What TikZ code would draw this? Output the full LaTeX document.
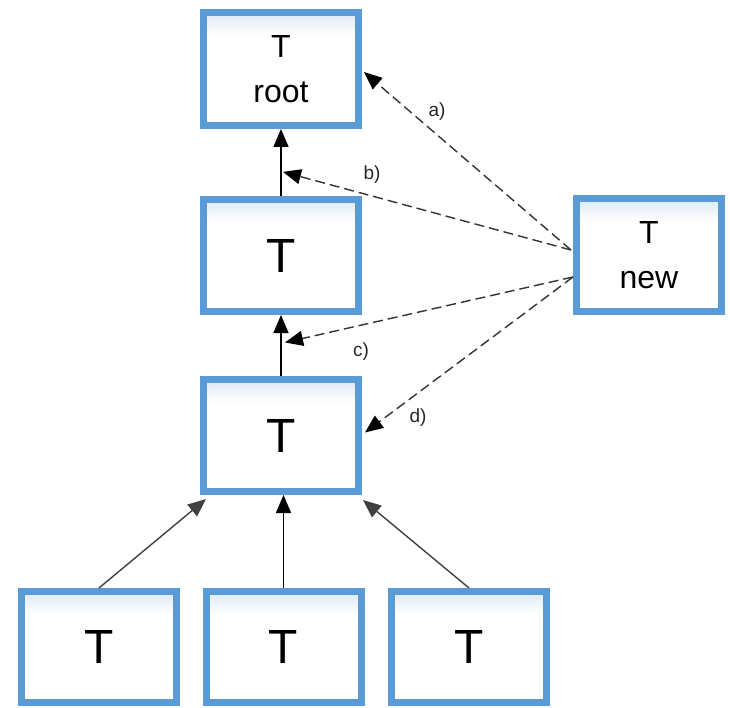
\documentclass[tikz,border=0pt]{standalone}
\usepackage{fontspec}
\setmainfont{Liberation Sans}
\usetikzlibrary{arrows.meta,calc}

\definecolor{boxblue}{HTML}{5B9BD5}
\definecolor{boxtint}{HTML}{DDE9F6}
\definecolor{dashgray}{HTML}{333333}

\tikzset{
  tbox/.style={draw=boxblue, line width=7pt, fill=white, inner sep=0pt,
    minimum width=155pt, minimum height=112pt, align=center,
    % soft tint fading down from the top edge
    path picture={
      \foreach \i [evaluate=\i as \p using {int(100-\i*6.5)}] in {0,...,15}
        \fill[boxtint!\p!white]
          ([yshift=-\i*1.5pt]path picture bounding box.north west) rectangle
          ([yshift=-\i*1.5pt-1.8pt]path picture bounding box.north east);}},
  bigT/.style={font=\fontsize{48}{50}\selectfont},
  smallT/.style={font=\fontsize{32}{45}\selectfont},
  tarrow/.style={line width=1.4pt, black, -{Triangle[length=18pt,width=15pt]}},
  darrow/.style={line width=1.4pt, dashgray, dash pattern=on 10pt off 5pt,
    -{Triangle[length=18pt,width=15pt,color=black]}},
  lbl/.style={font=\fontsize{19}{20}\selectfont, text=black!85}
}

\begin{document}
\begin{tikzpicture}[x=1pt,y=-1pt]
  \useasboundingbox (0,0) rectangle (730,708);

  % the chain up to the root
  \node[tbox, smallT, minimum height=113pt] (root) at (281,69) {T\\root};
  \node[tbox, bigT] (mid) at (281,255.5) {T};
  \node[tbox, bigT] (low) at (281,435.5) {T};

  % the three leaves
  \node[tbox, bigT, minimum height=111pt] (leafa) at (99,647) {T};
  \node[tbox, bigT, minimum height=111pt] (leafb) at (283.5,647) {T};
  \node[tbox, bigT, minimum height=111pt] (leafc) at (469,647) {T};

  % the node to insert
  \node[tbox, smallT, minimum width=145pt, minimum height=113pt] (new) at (649,255) {T\\new};

  % tree edges
  \draw[tarrow] (mid.north) -- (root.south);
  \draw[tarrow] (low.north) -- (mid.south);
  \draw[tarrow] (leafb.north) -- (leafb.north |- low.south);
  \draw[tarrow, black!75] (leafa.north) -- ([xshift=6pt,yshift=-4pt]low.south west);
  \draw[tarrow, black!75] (leafc.north) -- ([xshift=1pt,yshift=-5pt]low.south east);

  % possible insertion places
  \coordinate (na) at ([xshift=-2pt,yshift=5pt]new.west);
  \coordinate (nc) at ([yshift=-22pt]new.west);
  \coordinate (pb) at ($(root.south)!0.64!(mid.north)$);
  \coordinate (pc) at ($(mid.south)!0.45!(low.north)$);

  \draw[darrow] (na) -- ([xshift=2pt,yshift=-3pt]root.east);
  \draw[darrow] (na) -- ([xshift=2pt]pb);
  \draw[darrow] (nc) -- ([xshift=4pt]pc);
  \draw[darrow] (nc) -- ([xshift=3pt,yshift=3pt]low.east);

  \node[lbl] (la) at (437,112) {a)};
  \node[lbl] (lb) at (372,175) {b)};
  \node[lbl] (lc) at (361,352) {c)};
  \node[lbl] (ld) at (418,418) {d)};
\end{tikzpicture}
\end{document}
